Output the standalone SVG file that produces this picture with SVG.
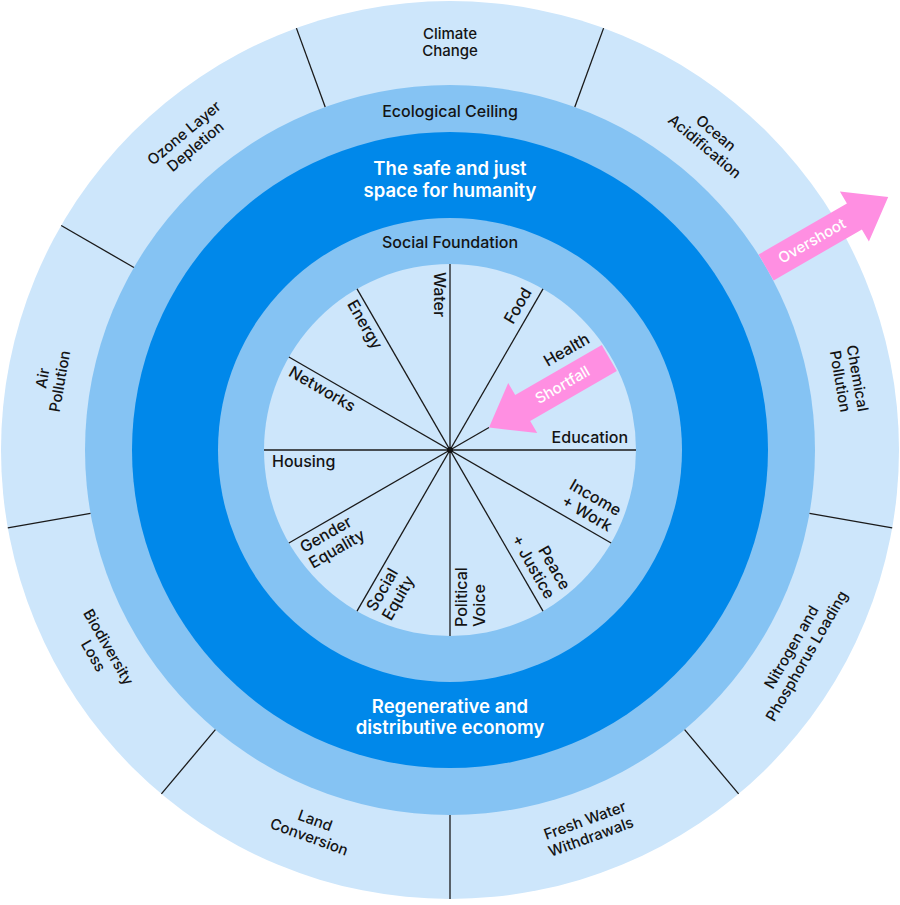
<svg xmlns="http://www.w3.org/2000/svg" width="900" height="905" viewBox="0 0 900 905">
<style>
.lbl{font-family:Inter,"Liberation Sans",sans-serif;font-weight:500;fill:#141414}
.o{font-size:15px;text-anchor:middle}
.i{font-size:16px}
.t{font-family:Inter,"Liberation Sans",sans-serif;font-weight:600;fill:#fff;font-size:18.5px;text-anchor:middle}
.h{font-size:16px;text-anchor:middle}
.w{font-family:Inter,"Liberation Sans",sans-serif;font-weight:500;fill:#fff;font-size:15px;text-anchor:middle}
.ln{stroke:#1a1a1a;stroke-width:1.3;fill:none}
.pk{fill:#FF8FE2}
</style>
<rect width="900" height="905" fill="#fff"/>
<g id="rings">
<circle cx="450" cy="450" r="449" fill="#CDE6FB"/>
<circle cx="450" cy="450" r="365" fill="#85C3F3"/>
<circle cx="450" cy="450" r="318" fill="#0088EA"/>
<circle cx="450" cy="450" r="232" fill="#85C3F3"/>
<circle cx="450" cy="450" r="186" fill="#CDE6FB"/>
</g>
<g id="connectors" class="ln">
<line x1="574.8" y1="107" x2="603.6" y2="28.1"/>
<line x1="809.5" y1="513.4" x2="892.2" y2="527.9"/>
<line x1="684.6" y1="729.6" x2="738.6" y2="793.9"/>
<line x1="450" y1="815" x2="450" y2="899"/>
<line x1="215.4" y1="729.6" x2="161.4" y2="793.9"/>
<line x1="90.5" y1="513.4" x2="7.8" y2="527.9"/>
<line x1="133.9" y1="267.5" x2="61.2" y2="225.5"/>
<line x1="325.2" y1="107" x2="296.4" y2="28.1"/>
<line x1="450" y1="264" x2="450" y2="636"/>
<line x1="543" y1="288.9" x2="357" y2="611.1"/>
<line x1="636" y1="450" x2="264" y2="450"/>
<line x1="611.1" y1="543" x2="288.9" y2="357"/>
<line x1="543" y1="611.1" x2="357" y2="288.9"/>
<line x1="450" y1="450" x2="288.9" y2="543"/>
<line x1="450" y1="450" x2="489" y2="427.5"/>
<circle cx="450" cy="450" r="3" fill="#111" stroke="none"/>
</g>
<g id="titles">
<text class="lbl h" x="450" y="116.5">Ecological Ceiling</text>
<text class="t" x="450" y="175">The safe and just</text>
<text class="t" x="450" y="197">space for humanity</text>
<text class="lbl h" x="450" y="248">Social Foundation</text>
<text class="t" x="450" y="713">Regenerative and</text>
<text class="t" x="450" y="734">distributive economy</text>
</g>
<g id="climate-change"><text class="lbl o" transform="translate(450,43)"><tspan x="0" y="-4.5">Climate</tspan><tspan x="0" y="13">Change</tspan></text></g>
<g id="ocean-acidification"><text class="lbl o" transform="translate(709.7,140.5) rotate(40)"><tspan x="0" y="-4.5">Ocean</tspan><tspan x="0" y="13">Acidification</tspan></text></g>
<g id="chemical-pollution"><text class="lbl o" transform="translate(847.9,379.9) rotate(80)"><tspan x="0" y="-4.5">Chemical</tspan><tspan x="0" y="13">Pollution</tspan></text></g>
<g id="nitrogen-phosphorus"><text class="lbl o" transform="translate(799.9,652) rotate(-60)"><tspan x="0" y="-4.5">Nitrogen and</tspan><tspan x="0" y="13">Phosphorus Loading</tspan></text></g>
<g id="fresh-water"><text class="lbl o" transform="translate(588.2,829.6) rotate(-20)"><tspan x="0" y="-4.5">Fresh Water</tspan><tspan x="0" y="13">Withdrawals</tspan></text></g>
<g id="land-conversion"><text class="lbl o" transform="translate(311.8,829.6) rotate(20)"><tspan x="0" y="-4.5">Land</tspan><tspan x="0" y="13">Conversion</tspan></text></g>
<g id="biodiversity-loss"><text class="lbl o" transform="translate(100.1,652) rotate(60)"><tspan x="0" y="-4.5">Biodiversity</tspan><tspan x="0" y="13">Loss</tspan></text></g>
<g id="air-pollution"><text class="lbl o" transform="translate(52.1,379.9) rotate(-80)"><tspan x="0" y="-4.5">Air</tspan><tspan x="0" y="13">Pollution</tspan></text></g>
<g id="ozone-depletion"><text class="lbl o" transform="translate(190.3,140.5) rotate(-40)"><tspan x="0" y="-4.5">Ozone Layer</tspan><tspan x="0" y="13">Depletion</tspan></text></g>
<g id="water"><text class="lbl i" transform="translate(433.5,272) rotate(90)">Water</text></g>
<g id="energy"><text class="lbl i" transform="translate(346.7,304.1) rotate(60)">Energy</text></g>
<g id="networks"><text class="lbl i" transform="translate(287.6,375.3) rotate(30)">Networks</text></g>
<g id="housing"><text class="lbl i" transform="translate(272,466.5)">Housing</text></g>
<g id="gender-equality"><text class="lbl i" transform="translate(304.1,553.3) rotate(-30)"><tspan x="0" y="0">Gender</tspan><tspan x="0" y="18">Equality</tspan></text></g>
<g id="social-equity"><text class="lbl i" transform="translate(375.3,612.4) rotate(-60)"><tspan x="0" y="0">Social</tspan><tspan x="0" y="18">Equity</tspan></text></g>
<g id="political-voice"><text class="lbl i" transform="translate(467,627) rotate(-90)"><tspan x="0" y="0">Political</tspan><tspan x="0" y="18">Voice</tspan></text></g>
<g id="peace-justice"><text class="lbl i" text-anchor="end" transform="translate(561.5,591.1) rotate(60)"><tspan x="0" y="0">Peace</tspan><tspan x="0" y="18">+ Justice</tspan></text></g>
<g id="income-work"><text class="lbl i" text-anchor="end" transform="translate(617.1,516.5) rotate(30)"><tspan x="0" y="0">Income</tspan><tspan x="0" y="18">+ Work</tspan></text></g>
<g id="education"><text class="lbl i" text-anchor="end" x="628" y="443">Education</text></g>
<g id="health"><text class="lbl i" text-anchor="end" transform="translate(590.9,342.1) rotate(-30)">Health</text></g>
<g id="food"><text class="lbl i" text-anchor="end" transform="translate(532.1,291.9) rotate(-60)">Food</text></g>
<g id="shortfall">
<polygon class="pk" points="601.8,345 515.2,395 508.2,382.9 489,427.5 537.2,433.1 530.2,421 616.8,371"/>
<text class="w" transform="translate(562.6,385) rotate(-30)" y="5">Shortfall</text>
</g>
<g id="overshoot">
<polygon class="pk" points="758.6,254.5 846.9,203.5 839.9,191.4 888.2,197 868.9,241.6 861.9,229.5 773.6,280.5"/>
<text class="w" transform="translate(812,241) rotate(-30)" y="5">Overshoot</text>
</g>
</svg>
